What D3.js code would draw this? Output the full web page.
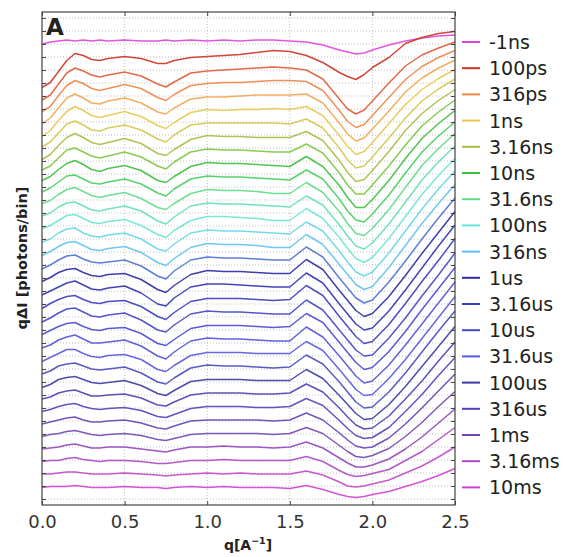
<!DOCTYPE html>
<html><head><meta charset="utf-8">
<script src="https://cdn.jsdelivr.net/npm/d3@7"></script>
<style>body{margin:0;background:#fff;}svg{display:block;font-family:"DejaVu Sans",sans-serif;}</style>
</head><body>
<svg id="chart" width="566" height="557"></svg>
<script>
// q grid (A^-1)
const qValues = [0,0.05,0.1,0.15,0.2,0.25,0.3,0.35,0.4,0.5,0.6,0.7,0.75,0.8,0.9,1.0,1.1,1.2,1.3,1.4,1.5,1.6,1.7,1.8,1.85,1.9,1.95,2.0,2.1,2.2,2.3,2.4,2.5];
// time delays (curve order, top to bottom)
const timeLabels = ["-1ns","100ps","178ps","316ps","562ps","1ns","1.78ns","3.16ns","5.62ns","10ns","17.8ns","31.6ns","56.2ns","100ns","178ns","316ns","562ns","1us","1.78us","3.16us","5.62us","10us","17.8us","31.6us","56.2us","100us","178us","316us","562us","1ms","1.78ms","3.16ms","5.62ms","10ms"];
// q*dI for each delay (before vertical stacking offset)
const t_m1ns  = [-2,0,1,2,1,2,1,2,1,2,1,1,2,1,2,1,2,1,2,2,1,0,-3,-8,-10,-12,-11,-8,-3,1,4,6,7];
const t_100ps = [-32,-27,-16,-5,2,0,-4,-5,-3,-1,-3,-8,-8,-5,-2,-1,0,1,3,5,4,0,-7,-17,-21,-24,-19,-12,-2,12,18,22,24];
const t_178ps = [-31,-26,-15,-4,1,-2,-6,-8,-6,-3,-7,-15,-18,-13,-4,-2,-1,0,1,2,1,-1,-10,-30,-40,-45,-41,-32,-14,3,14,21,27];
const t_316ps = [-29,-24,-13,-3,2,-1,-6,-8,-6,-2,-6,-15,-18,-12,-3,-1,0,0,1,2,2,1,-8,-28,-39,-45,-42,-33,-15,3,16,25,32];
const t_562ps = [-28,-22,-12,-2,2,-2,-7,-8,-5,-2,-7,-16,-18,-12,-3,-1,-1,0,1,1,1,2,-7,-27,-38,-45,-42,-33,-15,4,18,28,36];
const t_1ns   = [-27,-21,-11,-2,3,-1,-6,-8,-6,-2,-7,-16,-19,-13,-3,0,-1,0,0,1,0,3,-6,-26,-37,-45,-42,-33,-14,5,20,31,40];
const t_1_78ns= [-24,-19,-10,-1,2,-2,-7,-8,-5,-2,-7,-16,-19,-12,-2,0,0,0,0,0,-1,4,-5,-25,-37,-45,-43,-34,-15,5,22,34,44];
const t_3_16ns= [-23,-18,-9,-1,3,-1,-6,-8,-6,-2,-7,-17,-19,-13,-3,1,0,0,-1,-1,-1,5,-4,-24,-36,-45,-43,-34,-15,6,23,36,47];
const t_5_62ns= [-20,-16,-8,0,2,-2,-6,-8,-6,-2,-7,-16,-19,-12,-2,1,0,0,-1,-2,-2,6,-3,-23,-35,-44,-44,-35,-16,5,24,38,50];
const t_10ns  = [-17,-13,-6,0,3,-1,-6,-8,-5,-2,-7,-17,-19,-13,-3,1,0,0,-1,-2,-3,7,-3,-22,-34,-44,-44,-36,-17,5,25,40,53];
const t_17_8ns= [-15,-11,-5,1,2,-2,-6,-7,-5,-2,-7,-16,-19,-12,-2,1,0,0,-1,-2,-3,7,-2,-22,-34,-43,-45,-37,-18,4,25,41,55];
const t_31_6ns= [-13,-10,-4,1,3,-1,-5,-7,-5,-2,-8,-17,-19,-13,-3,1,0,0,-1,-3,-3,8,-2,-21,-33,-43,-45,-38,-19,3,25,42,57];
const t_56_2ns= [-12,-9,-3,1,2,-2,-6,-7,-5,-2,-7,-17,-20,-13,-2,1,0,0,-1,-2,-3,8,-1,-21,-32,-42,-45,-39,-20,2,24,42,58];
const t_100ns = [-11,-8,-3,2,3,-1,-5,-6,-4,-2,-8,-17,-20,-13,-3,1,1,0,-1,-3,-3,9,-1,-20,-31,-41,-45,-40,-21,1,23,42,59];
const t_178ns = [-11,-8,-2,2,3,-2,-5,-6,-4,-2,-8,-18,-20,-13,-2,1,0,0,-1,-2,-3,9,0,-20,-31,-41,-45,-41,-22,0,22,42,60];
const t_316ns = [-11,-7,-2,2,3,-1,-5,-6,-4,-2,-8,-18,-21,-14,-3,1,0,0,-1,-3,-3,10,0,-20,-30,-40,-45,-42,-23,-1,21,41,60];
const t_562ns = [-11,-7,-2,2,3,-1,-4,-5,-4,-2,-8,-18,-21,-13,-2,1,0,0,-1,-2,-2,11,1,-20,-30,-40,-45,-42,-24,-3,19,40,60];
const t_1us   = [-10,-6,-1,2,3,-1,-4,-5,-3,-2,-8,-18,-21,-14,-3,1,0,0,-1,-2,-2,12,2,-19,-29,-39,-45,-42,-25,-4,18,39,60];
const t_1_78us= [-10,-6,-2,2,4,0,-4,-5,-3,-1,-8,-19,-21,-13,-2,1,1,0,-1,-2,-2,12,2,-19,-29,-39,-45,-43,-26,-5,17,39,60];
const t_3_16us= [-10,-5,-1,2,3,-1,-4,-5,-3,-2,-8,-18,-21,-14,-3,0,0,0,-1,-2,-1,13,3,-18,-28,-38,-45,-43,-26,-5,17,38,60];
const t_5_62us= [-10,-6,-1,3,4,0,-4,-5,-3,-1,-8,-18,-20,-13,-2,1,0,0,-1,-2,-2,12,2,-18,-28,-38,-44,-43,-26,-6,16,37,59];
const t_10us  = [-9,-5,-1,2,3,-1,-4,-5,-3,-2,-8,-18,-20,-14,-3,0,0,0,-1,-2,-1,12,3,-17,-27,-37,-44,-42,-26,-6,16,37,58];
const t_17_8us= [-9,-6,-1,2,4,0,-4,-4,-3,-1,-7,-17,-20,-13,-2,1,0,0,-1,-2,-2,12,2,-17,-27,-37,-44,-42,-26,-6,15,36,57];
const t_31_6us= [-9,-5,-1,3,3,-1,-4,-5,-3,-2,-7,-17,-19,-13,-3,0,0,0,-1,-1,-1,11,2,-17,-27,-37,-43,-42,-26,-7,14,35,56];
const t_56_2us= [-8,-5,0,2,3,0,-3,-4,-3,-1,-7,-16,-18,-12,-2,1,0,0,-1,-2,-1,11,2,-16,-26,-36,-42,-41,-26,-7,14,35,55];
const t_100us = [-8,-5,0,2,3,0,-3,-4,-3,-1,-6,-14,-16,-11,-2,0,0,0,-1,-1,-1,10,1,-16,-25,-34,-40,-39,-25,-7,13,33,53];
const t_178us = [-6,-4,0,2,3,0,-3,-3,-2,-1,-5,-12,-13,-9,-2,0,0,0,-1,-1,0,9,1,-15,-24,-32,-36,-35,-23,-6,12,32,51];
const t_316us = [-5,-3,0,2,3,0,-2,-3,-2,-1,-4,-10,-11,-8,-2,0,0,0,-1,-1,0,8,1,-14,-22,-29,-32,-31,-21,-5,12,31,49];
const t_562us = [-4,-2,0,2,3,0,-2,-2,-1,0,-3,-8,-9,-6,-1,0,0,0,0,-1,0,7,0,-13,-20,-26,-28,-27,-18,-4,12,29,46];
const t_1ms   = [-3,-1,0,2,3,1,-1,-2,-1,0,-2,-6,-7,-5,-1,0,0,0,0,-1,0,6,0,-12,-18,-23,-24,-22,-15,-3,11,27,42];
const t_1_78ms= [-2,-1,0,2,3,1,-1,-1,0,0,-2,-4,-5,-3,0,0,1,0,0,-1,0,5,-1,-11,-16,-20,-20,-18,-12,-2,10,24,38];
const t_3_16ms= [-1,0,0,2,3,1,0,-1,0,0,-1,-3,-3,-2,0,0,1,0,0,0,0,4,-1,-10,-14,-16,-15,-13,-9,0,9,21,33];
const t_5_62ms= [0,0,1,2,2,1,0,0,0,1,0,-1,-2,-1,0,1,0,1,0,0,0,3,-1,-8,-12,-13,-12,-10,-6,1,8,17,27];
const t_10ms  = [0,1,1,1,2,1,0,0,0,1,0,0,-1,0,1,0,1,0,0,0,-1,2,-2,-7,-9,-10,-9,-7,-4,1,6,12,19];
const seriesList = [t_m1ns,t_100ps,t_178ps,t_316ps,t_562ps,t_1ns,t_1_78ns,t_3_16ns,t_5_62ns,t_10ns,t_17_8ns,t_31_6ns,t_56_2ns,t_100ns,t_178ns,t_316ns,t_562ns,t_1us,t_1_78us,t_3_16us,t_5_62us,t_10us,t_17_8us,t_31_6us,t_56_2us,t_100us,t_178us,t_316us,t_562us,t_1ms,t_1_78ms,t_3_16ms,t_5_62ms,t_10ms];
const xTicks = [0,0.5,1.0,1.5,2.0,2.5];

// ---- styles / layout ----
const colors = ["#dd44dd","#cc3322","#e05a34","#ee8548","#f2a650","#e8c850","#d4c64a","#aabb44","#7cc640","#3cbf3c","#44cf5c","#5cdc88","#60e0b0","#6ce6d4","#66d6e6","#5ec2ee","#4c70d4","#2a2aa4","#3030b2","#3a3ac0","#4242c8","#4848d0","#5050d8","#5656de","#4848bc","#3a38a4","#4a40b2","#5440bc","#6442b8","#7446b2","#9046bc","#ac46c4","#c446c8","#d040d0"];
const OFFSET = 13.5;
const plot = {left:42, right:455, top:12, bottom:505};
const svg = d3.select("#chart");

const x = d3.scaleLinear().domain([0,2.5]).range([plot.left, plot.right]);
const y = d3.scaleLinear().domain([-463, 30]).range([plot.bottom, plot.top]);

// grid
const gridY = d3.range(0, 38).map(n => 24 - 13*n);
const grid = svg.append("g");
grid.selectAll("line.gy").data(gridY).join("line")
  .attr("x1", plot.left).attr("x2", plot.right)
  .attr("y1", d => y(d)).attr("y2", d => y(d))
  .attr("stroke", "#999").attr("stroke-width", 0.6).attr("stroke-dasharray", "1,2");
grid.selectAll("line.gx").data(xTicks.slice(1,-1)).join("line")
  .attr("x1", d => x(d)).attr("x2", d => x(d))
  .attr("y1", plot.top).attr("y2", plot.bottom)
  .attr("stroke", "#999").attr("stroke-width", 0.6).attr("stroke-dasharray", "1,2");

// curves
const line = d3.line().x((d,i) => x(qValues[i])).y(d => y(d));
const curves = svg.append("g");
seriesList.forEach((s, k) => {
  const shifted = s.map(v => v - k*OFFSET);
  curves.append("path").datum(shifted)
    .attr("d", line).attr("fill", "none")
    .attr("stroke", colors[k]).attr("stroke-width", 1.5)
    .attr("stroke-linejoin", "round").attr("opacity", 0.9);
});

// frame
svg.append("rect").attr("x", plot.left).attr("y", plot.top)
  .attr("width", plot.right-plot.left).attr("height", plot.bottom-plot.top)
  .attr("fill", "none").attr("stroke", "#444").attr("stroke-width", 1.2);

// x axis ticks (inward) + labels
const xAxis = d3.axisBottom(x).tickValues(xTicks).tickFormat(d3.format(".1f")).tickSizeInner(-4).tickSizeOuter(0).tickPadding(10);
const gx = svg.append("g").attr("transform", `translate(0,${plot.bottom})`).call(xAxis);
gx.select(".domain").remove();
gx.selectAll("line").attr("stroke", "#444");
gx.selectAll("text").attr("font-size", 18).attr("fill", "#333").attr("font-family", "DejaVu Sans");
const xTop = d3.axisTop(x).tickValues(xTicks).tickFormat("").tickSizeInner(-4).tickSizeOuter(0);
const gxt = svg.append("g").attr("transform", `translate(0,${plot.top})`).call(xTop);
gxt.select(".domain").remove(); gxt.selectAll("line").attr("stroke", "#444");

// y ticks (inward, no labels)
const yAxis = d3.axisLeft(y).tickValues(gridY).tickFormat("").tickSizeInner(-4).tickSizeOuter(0);
const gy = svg.append("g").attr("transform", `translate(${plot.left},0)`).call(yAxis);
gy.select(".domain").remove(); gy.selectAll("line").attr("stroke", "#444");
const yAxisR = d3.axisRight(y).tickValues(gridY).tickFormat("").tickSizeInner(-4).tickSizeOuter(0);
const gyr = svg.append("g").attr("transform", `translate(${plot.right},0)`).call(yAxisR);
gyr.select(".domain").remove(); gyr.selectAll("line").attr("stroke", "#444");

// panel letter
svg.append("text").attr("x", 46).attr("y", 35).text("A")
  .attr("font-size", 23).attr("font-weight", "bold").attr("fill", "#222");

// axis labels
svg.append("text").attr("transform", "translate(27,258) rotate(-90)")
  .attr("text-anchor", "middle").attr("font-size", 14.5).attr("font-weight", "bold").attr("fill", "#222")
  .text("qΔI [photons/bin]");
const xl = svg.append("text").attr("x", 248).attr("y", 550).attr("text-anchor", "middle")
  .attr("font-size", 14).attr("font-weight", "bold").attr("fill", "#222");
xl.append("tspan").text("q[A");
xl.append("tspan").attr("dy", -6).attr("font-size", 9.5).text("−1");
xl.append("tspan").attr("dy", 6).text("]");

// legend
const legendIdx = timeLabels.map((t,i) => i).filter(i => i === 0 || i % 2 === 1);
const lg = svg.append("g");
legendIdx.forEach((k, r) => {
  const ly = 42 + r*26.2;
  lg.append("line").attr("x1", 462).attr("x2", 480).attr("y1", ly).attr("y2", ly)
    .attr("stroke", colors[k]).attr("stroke-width", 2);
  lg.append("text").attr("x", 489).attr("y", ly + 7).text(timeLabels[k])
    .attr("font-size", 19).attr("fill", "#222");
});
</script>
</body></html>
